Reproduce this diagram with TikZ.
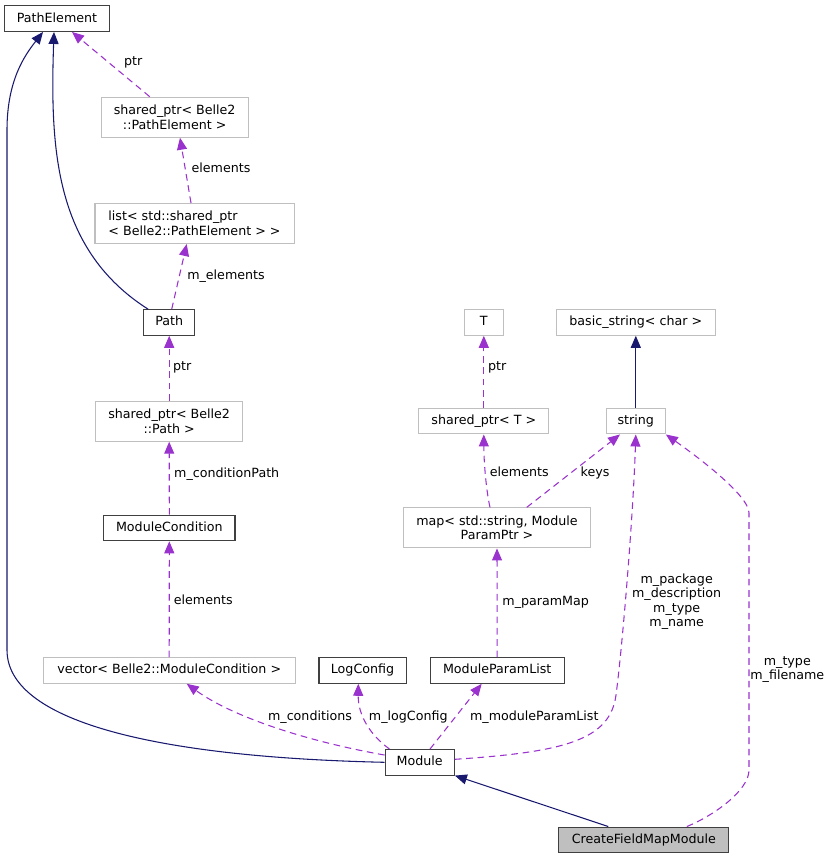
\documentclass[tikz,border=0pt]{standalone}
\usepackage{fontspec}
\setmainfont{DejaVu Sans}
\usepackage{tikz}
\usetikzlibrary{arrows.meta}
\usetikzlibrary{calc}

\definecolor{inhblue}{HTML}{191970}
\definecolor{relpurple}{HTML}{9A32CD}
\definecolor{extgray}{HTML}{BFBFBF}
\definecolor{clsgray}{HTML}{404040}

\begin{document}
\begin{tikzpicture}[x=0.75pt,y=-0.75pt,
  font=\fontsize{9.5}{10.9}\selectfont,
  box/.style={draw,line width=0.8pt,inner sep=0pt,minimum height=19.1pt},
  one/.style={text height=7pt,text depth=2pt},
  two/.style={minimum height=30pt,align=center},
  cls/.style={box,one,draw=clsgray},
  ext/.style={box,draw=extgray},
  cur/.style={cls,fill=extgray},
  lbl/.style={inner sep=0pt,text height=7pt,text depth=2pt},
  lbls/.style={inner sep=0pt,align=center},
  inh/.style={draw=inhblue,line width=0.8pt,-{Triangle[length=9pt,width=7.5pt,fill=inhblue]}},
  rel/.style={draw=relpurple,line width=0.8pt,dash pattern=on 5pt off 3.5pt,-{Triangle[length=9pt,width=7.5pt,fill=relpurple]}}]

\useasboundingbox (0,0) rectangle (832,859);

% classes of the left column
\node[cls,minimum width=78.5pt] (pe) at (57,18.7) {PathElement};
\node[ext,two,minimum width=110.5pt] (spPE) at (174.7,117.2) {shared\_ptr< Belle2\\::PathElement >};
\node[ext,minimum height=30pt,align=left,minimum width=149.3pt] (lst) at (194.5,223.5) {list< std::shared\_ptr\\< Belle2::PathElement > >};
\node[cls,minimum width=38.3pt] (path) at (169.2,322.5) {Path};
\node[ext,two,minimum width=110.3pt] (spPath) at (169.2,421.2) {shared\_ptr< Belle2\\::Path >};
\node[cls,minimum width=98.5pt] (modCond) at (169.3,528) {ModuleCondition};
\node[ext,one,minimum width=188.8pt] (vec) at (169.2,670.5) {vector< Belle2::ModuleCondition >};

% classes of the right part
\node[ext,one,minimum width=29.3pt] (tT) at (483.8,322.5) {T};
\node[ext,one,minimum width=119.3pt] (bstr) at (635.8,322.5) {basic\_string< char >};
\node[ext,one,minimum width=97.3pt] (spT) at (483.8,421.2) {shared\_ptr< T >};
\node[ext,one,minimum width=44.3pt] (str) at (635.8,421.2) {string};
\node[ext,two,minimum width=140.6pt] (mapP) at (497,527.9) {map< std::string, Module\\ParamPtr >};
\node[cls,minimum width=65.3pt] (logCfg) at (362.5,670.5) {LogConfig};
\node[cls,minimum width=100.3pt] (mpl) at (497.2,670.5) {ModuleParamList};
\node[cls,minimum width=52pt] (module) at (419.7,762.3) {Module};
\node[cur,minimum width=127.3pt] (cfmm) at (643.8,839.8) {CreateFieldMapModule};

% inheritance
\draw[inh] (module.west) .. controls (150,757) and (7,720) .. (7,650) -- (7,130) .. controls (7,80) and (25,55) .. ($(pe.south)+(-14,0)$);
\draw[inh] ($(path.north)+(-21,0)$) .. controls (55,250) and (50,150) .. ($(pe.south)+(-3,0)$);
\draw[inh] (str.north) -- (bstr.south);
\draw[inh] ($(cfmm.north)+(-35.5,0)$) -- (module.south east);

% members
\draw[rel] ($(spPE.north)+(-25,0)$) -- ($(pe.south)+(15,0)$);
\draw[rel] ($(lst.north)+(-3.5,0)$) -- ($(spPE.south)+(5.3,0)$);
\draw[rel] ($(path.north)+(2.5,0)$) -- ($(lst.south)+(-7.8,0)$);
\draw[rel] (spPath.north) -- (path.south);
\draw[rel] (modCond.north) -- (spPath.south);
\draw[rel] (vec.north) -- (modCond.south);
\draw[rel] ($(module.north west)+(0,6)$) .. controls (300,740) and (230,715) .. ($(vec.south)+(17.5,0)$);
\draw[rel] ($(module.north west)+(5,0)$) .. controls (370,735) and (358,715) .. ($(logCfg.south)+(-4.2,0)$);
\draw[rel] ($(module.north)+(10.3,0)$) -- ($(mpl.south)+(-15.5,0)$);
\draw[rel] (mpl.north) -- (mapP.south);
\draw[rel] ($(mapP.north)+(-7,0)$) .. controls (486,490) and (483.8,460) .. (spT.south);
\draw[rel] ($(mapP.north)+(29.7,0)$) -- ($(str.south)+(-15.8,0)$);
\draw[rel] (spT.north) -- (tT.south);
\draw[rel] ($(module.east)+(0,-3)$) .. controls (565,752) and (610,740) .. (616,695) .. controls (622,650) and (633,520) .. (str.south);
\draw[rel] ($(cfmm.north)+(43,0)$) .. controls (715,815) and (749,790) .. (749,770) -- (749,513) .. controls (749,495) and (695,455) .. (str.south east);

% labels
\node[lbl] (lPtrA) at (133.3,62.3) {ptr};
\node[lbl] (lElemA) at (221,169.3) {elements};
\node[lbl] (lMelem) at (226,276) {m\_elements};
\node[lbl] (lPtrB) at (182.3,367) {ptr};
\node[lbl] (lCondPath) at (226.7,473.7) {m\_conditionPath};
\node[lbl] (lElemB) at (203.3,601.3) {elements};
\node[lbl] (lCond) at (310,716.7) {m\_conditions};
\node[lbl] (lLog) at (408.3,716.7) {m\_logConfig};
\node[lbl] (lMpl) at (534.3,716.7) {m\_moduleParamList};
\node[lbl] (lParamMap) at (545.7,601.7) {m\_paramMap};
\node[lbl] (lElemC) at (519.3,473.3) {elements};
\node[lbl] (lKeys) at (595,473.3) {keys};
\node[lbl] (lPtrC) at (497.3,366.7) {ptr};
\node[lbls] (lStrs) at (676.7,601.7) {m\_package\\m\_description\\m\_type\\m\_name};
\node[lbls] (lType) at (787.3,669.7) {m\_type\\m\_filename};
\end{tikzpicture}
\end{document}
